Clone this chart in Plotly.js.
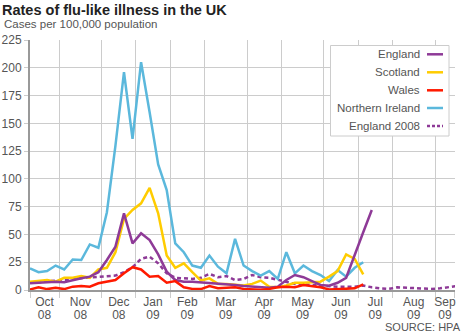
<!DOCTYPE html>
<html><head><meta charset="utf-8">
<script src="https://cdn.plot.ly/plotly-3.0.1.min.js"></script>
<style>html,body{margin:0;padding:0;background:#fff;}#chart{width:467px;height:335px;}</style>
</head><body><div id="chart"></div>
<script>
// week index (weekly data, first week of Oct 2008 = 0)
const weekNo = [0,1,2,3,4,5,6,7,8,9,10,11,12,13,14,15,16,17,18,19,20,21,22,23,24,25,26,27,28,29,30,31,32,33,34,35,36,37,38,39,40,41,42,43,44,45,46,47,48,49,50];

const england = [6,6.5,7,7.5,7,9,10.5,12,16,27,39,69,42,51,45,32,16.5,9,7.5,7.5,7,6.5,6,5.5,4.5,3.6,3,2.5,2,3,9,13.5,11.5,8,4.5,3.8,6.5,11,32,52,72];
const scotland = [7.5,8,9,7.5,11,11,12.5,11,18.5,20,34,64,72,78,92,69,31,20,24,16,8.5,10.5,5.5,5.5,4.5,4,5.5,8.5,3,2.5,4,6.5,6.5,7,7.5,12,17,32,28,14];
const wales = [0.5,2.4,0.8,2,0.8,3,3.6,3,6,7.5,9,15,20.5,18.5,12,12.5,6.5,8,2.5,1,0.8,3.6,1.5,2,2.4,1,0.3,0.2,1,2.4,3,2.4,4.5,3.5,2.5,0.5,0.6,1.2,1.5,5];
const nIreland = [19.5,16,17,22,18.5,27.5,27,41,38,70,130,196,136,205,160,113,90,42,34,22,20,31,21,15,46,22,17,13,17,10,34,15,22,17,13.5,8,18,12,20,25];
const england2008 = [6.5,7,7.5,8.5,9,10,10.5,11,12,12.5,13,16,20.5,28,30,24,15,11,10.5,10,11,14.5,11.5,12.5,9,10,13.5,11.5,11,9,7,5.5,5,4.5,4,3,3,3,3,4,2.4,1.5,1,2.4,2,1.5,1.2,1,1.5,2.4,3.6];

const seriesNames = ['England','Scotland','Wales','Northern Ireland','England 2008'];
const seriesColors = ['#8e3a97','#ffcc00','#ff1a00','#5bb8dc','#8e3a97'];

const monthBounds = [0,3.4,8.4,12.4,16.4,20.4,25.4,29.4,34.4,38.4,42.4,47.4,49.68];
const monthNames = ['Oct','Nov','Dec','Jan','Feb','Mar','Apr','May','Jun','Jul','Aug','Sep'];
const yearNames = ['08','08','08','09','09','09','09','09','09','09','09','09'];
const yTicks = [0,25,50,75,100,125,150,175,200,225];

const xMax = 49.74;
const monthCenters = monthNames.map((m,i)=> (monthBounds[i] + (i+1<monthBounds.length-1 ? monthBounds[i+1] : xMax))/2);

const font = 'Liberation Sans, Arial, sans-serif';
const W = 2.5;
function tr(y, idx, extra){
  return Object.assign({x: weekNo.slice(0,y.length), y: y, type:'scatter', mode:'lines', name: seriesNames[idx],
    line:{color: seriesColors[idx], width: W}, showlegend:false, hoverinfo:'skip'}, extra||{});
}
const data = [
  tr(england2008, 4, {line:{color: seriesColors[4], width: W, dash:'4px,3px'}}),
  tr(nIreland, 3),
  tr(scotland, 1),
  tr(england, 0),
  tr(wales, 2),
  {x:[0], y:[null], xaxis:'x2', yaxis:'y', type:'scatter', mode:'lines', showlegend:false, hoverinfo:'skip'}
];

// plot area in pixels: left 30, right 455, top 40, bottom 290
const L=30, R=455, T=40, B=290;
const pxX = p => (p-L)/(R-L);
const pxY = p => (B-p)/(B-T);

const shapes = [
  {type:'rect', xref:'paper', yref:'paper', x0:pxX(330.5), x1:pxX(449), y0:pxY(136), y1:pxY(45.5),
   fillcolor:'#fff', line:{color:'#cccccc', width:1}, layer:'above'}
];
const annotations = [
  {text:'Cases per 100,000 population', xref:'paper', yref:'paper', x:pxX(2), y:pxY(24.5),
   xanchor:'left', yanchor:'middle', showarrow:false, font:{family:font, size:11.5, color:'#555'}},
  {text:'SOURCE: HPA', xref:'paper', yref:'paper', x:pxX(463), y:pxY(327),
   xanchor:'right', yanchor:'middle', showarrow:false, font:{family:font, size:11, color:'#555'}}
];
const legendRows = [54.3, 72.3, 90.3, 108, 126];
seriesNames.forEach((n,i)=>{
  annotations.push({text:n, xref:'paper', yref:'paper', x:pxX(422), y:pxY(legendRows[i]), xanchor:'right', yanchor:'middle',
    showarrow:false, font:{family:font, size:11.5, color:'#555'}});
  shapes.push({type:'line', xref:'paper', yref:'paper', x0:pxX(427), x1:pxX(443), y0:pxY(legendRows[i]), y1:pxY(legendRows[i]),
    line:{color:seriesColors[i], width:2.5, dash: i===4 ? '3px,2px' : 'solid'}, layer:'above'});
});

const layout = {
  width:467, height:335,
  margin:{l:L, r:467-R, t:T, b:335-B, pad:0},
  paper_bgcolor:'#fff', plot_bgcolor:'#fff',
  font:{family:font, color:'#555', size:12},
  title:{text:'Rates of flu-like illness in the UK', x:2/467, xref:'container', xanchor:'left',
    y:1-10/335, yref:'container', yanchor:'middle', font:{family:font, size:14.5, weight:'bold', color:'#222'}},
  xaxis:{range:[0,xMax], tickmode:'array', tickvals:monthCenters, ticktext:monthNames, ticks:'', showgrid:false,
    zeroline:false, showline:true, linecolor:'#999', linewidth:2, ticklabelstandoff:0,
    tickfont:{family:font, size:12, color:'#555'}, fixedrange:true,
    minor:{tickmode:'array', tickvals:monthBounds, showgrid:true, gridcolor:'#cccccc', gridwidth:1, ticks:'outside', ticklen:6, tickcolor:'#cccccc', tickwidth:1}},
  xaxis2:{overlaying:'x', matches:'x', anchor:'y', side:'bottom', tickmode:'array', tickvals:monthCenters, ticktext:yearNames,
    ticks:'', showgrid:false, zeroline:false, showline:false, ticklabelstandoff:16, tickfont:{family:font, size:12, color:'#555'}},
  yaxis:{range:[0,225], tickmode:'array', tickvals:yTicks, showgrid:true, gridcolor:'#cccccc', gridwidth:1,
    zeroline:false, showline:true, linecolor:'#999', linewidth:2, ticks:'outside', ticklen:4, tickcolor:'#cccccc',
    tickfont:{family:font, size:12, color:'#555'}, fixedrange:true},
  shapes: shapes, annotations: annotations, showlegend:false
};
Plotly.newPlot('chart', data, layout, {displayModeBar:false, staticPlot:true});
</script></body></html>
